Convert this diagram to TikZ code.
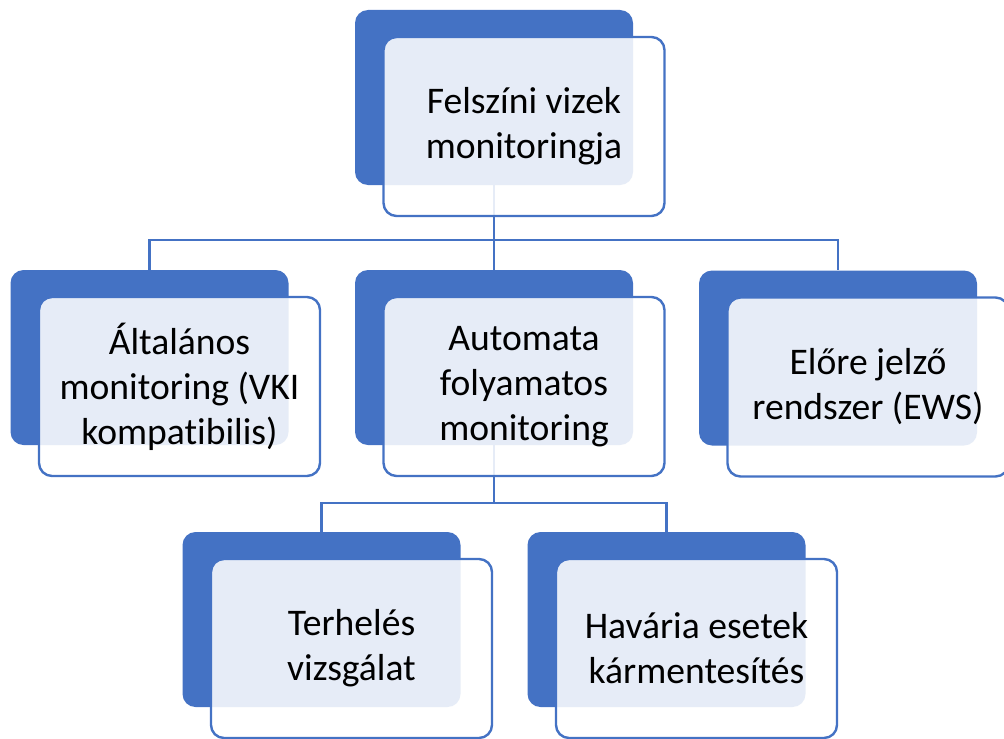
\documentclass[tikz,border=0pt]{standalone}
\usepackage{fontspec}
\setmainfont{Carlito}[Ligatures=NoCommon]
\usetikzlibrary{positioning}
\definecolor{sablue}{HTML}{4472C4}

\begin{document}
\begin{tikzpicture}[x=0.5pt, y=-0.5pt, font=\fontsize{18.8}{22.5}\selectfont,
  back/.style={fill=sablue, rounded corners=6.5pt, minimum width=139pt, minimum height=87.5pt, inner sep=0pt},
  front/.style={draw=sablue, line width=1.2pt, fill=white, fill opacity=0.87, text opacity=1, rounded corners=6.5pt, minimum width=140.5pt, minimum height=89.5pt, align=center, inner sep=0pt},
  link/.style={draw=sablue, line width=1.2pt}]

\useasboundingbox (0,0) rectangle (1004,738);

\node[back] (topB) at (494,97.5) {};
\node[back] (leftB) at (149.5,357.5) {};
\node[back] (autoB) at (494,357.5) {};
\node[back] (ewsB) at (838,358) {};
\node[back] (terhB) at (321.5,619.5) {};
\node[back] (havB) at (666.5,619.5) {};

\coordinate (bus1) at (494,240);
\coordinate (bus2) at (494,503);
\draw[link] (topB.south) -- (bus1);
\draw[link] (leftB.north) |- (bus1) -| (ewsB.north);
\draw[link] (bus1) -- (autoB.north);
\draw[link] (autoB.south) -- (bus2);
\draw[link] (terhB.north) |- (bus2) -| (havB.north);

\node[front] (top) at ([shift={(30,29)}]topB) {Felszíni vizek\\monitoringja};
\node[front] (left) at ([shift={(30,29)}]leftB) {Általános\\monitoring (VKI\\kompatibilis)};
\node[front] (auto) at ([shift={(30,29)}]autoB) {Automata\\folyamatos\\monitoring};
\node[front] (ews) at ([shift={(30,29)}]ewsB) {Előre jelző\\rendszer (EWS)};
\node[front] (terh) at ([shift={(30,29)}]terhB) {Terhelés\\vizsgálat};
\node[front] (hav) at ([shift={(30,29)}]havB) {Havária esetek\\kármentesítés};

\end{tikzpicture}
\end{document}
